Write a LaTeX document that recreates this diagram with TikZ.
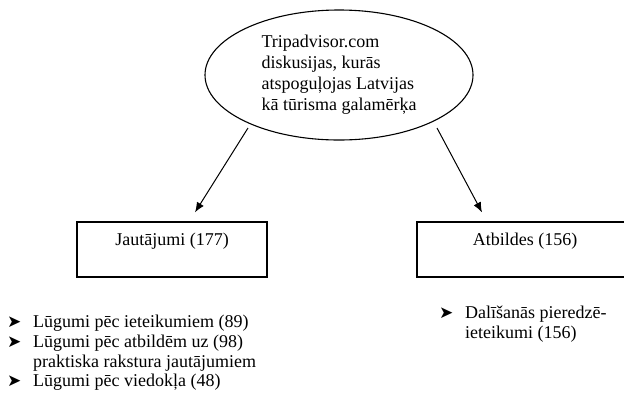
\documentclass[tikz,border=0pt]{standalone}
\usepackage{fontspec}
\setmainfont{Liberation Serif}
\newfontfamily\dejavu{DejaVu Sans}
\usetikzlibrary{shapes.geometric,arrows.meta,calc}
\begin{document}
\begin{tikzpicture}[x=1pt,y=-1pt,font=\fontsize{18}{21}\selectfont,
  topnode/.style={ellipse,draw,line width=1.1pt,minimum width=268pt,minimum height=130pt,inner sep=0pt,align=left},
  catbox/.style={draw,line width=1.3pt,inner sep=0pt,minimum width=#1,text height=23pt,text depth=32pt},
  arr/.style={-{Latex[length=10pt,width=8pt]},line width=1pt},
  itemtext/.style={anchor=base west,inner sep=0pt},
  bulmark/.style={anchor=base west,inner sep=0pt,font=\dejavu\fontsize{17}{17}\selectfont}]
\useasboundingbox (0,0) rectangle (624,392);
\clip (0,0) rectangle (624,392);
\node[topnode] (top) at (339,75) {Tripadvisor.com\\diskusijas, kurās\\atspoguļojas Latvijas\\kā tūrisma galamērķa};
\node[catbox=190pt] (jaut) at (172,249.5) {Jautājumi (177)};
\node[catbox=216pt] (atb) at (525,249.5) {Atbildes (156)};
\draw[arr] ([shift={(-91,53)}]top.center) -- ([shift={(23,-9)}]jaut.north);
\draw[arr] ([shift={(98,53)}]top.center) -- ([shift={(-43,-9)}]atb.north);
% left list
\node[bulmark] (b1) at (7,327) {➤};
\node[itemtext] (t1) at (33,327) {Lūgumi pēc ieteikumiem (89)};
\node[bulmark] (b2) at (7,347) {➤};
\node[itemtext] (t2) at (33,347) {Lūgumi pēc atbildēm uz (98)};
\node[itemtext] (t2b) at (33,367) {praktiska rakstura jautājumiem};
\node[bulmark] (b3) at (7,386) {➤};
\node[itemtext] (t3) at (33,386) {Lūgumi pēc viedokļa (48)};
% right list
\node[bulmark] (b4) at (439,318) {➤};
\node[itemtext] (t4) at (465,318) {Dalīšanās pieredzē-};
\node[itemtext] (t4b) at (465,338) {ieteikumi (156)};
\end{tikzpicture}
\end{document}
